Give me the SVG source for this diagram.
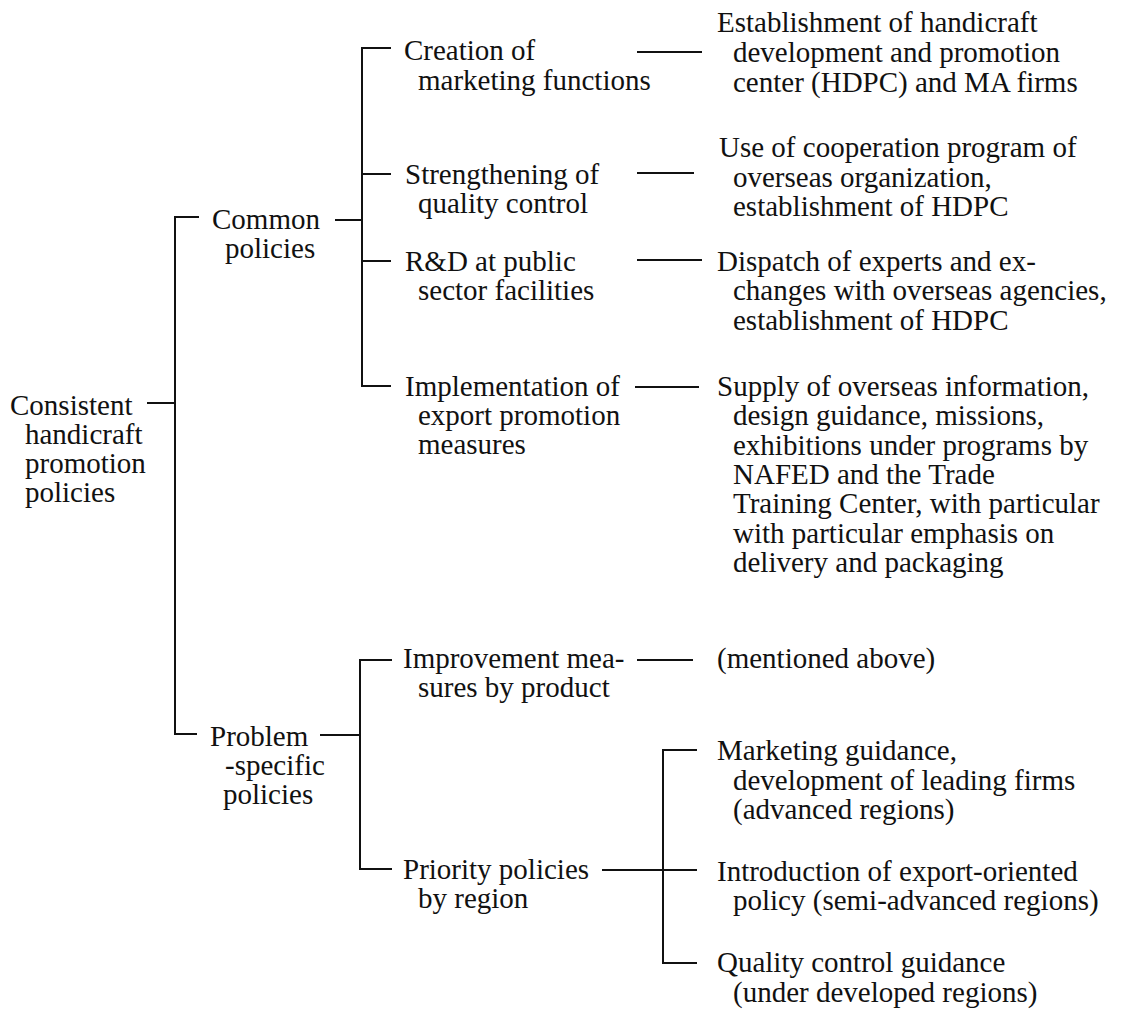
<svg xmlns="http://www.w3.org/2000/svg" width="1135" height="1014" viewBox="0 0 1135 1014">
  <style>
    text { font-family: 'Liberation Serif', 'Times New Roman', Times, serif; font-size: 29px; fill: #111; }
    .c { stroke: #111; stroke-width: 2; fill: none; stroke-linecap: butt; }
  </style>
  <rect width="1135" height="1014" fill="#fff"/>

  <!-- connectors: brackets, ticks and dashes -->
  <g id="connectors" class="c">
    <!-- root bracket -->
    <path d="M147 403 H175"/>
    <path d="M199 217 H175 V734 H197"/>
    <!-- common policies bracket -->
    <path d="M335 220 H362"/>
    <path d="M391 48 H362 V386 H391"/>
    <path d="M362 174 H391"/>
    <path d="M362 261 H391"/>
    <!-- common policies to measures -->
    <path d="M637 52 H702"/>
    <path d="M637 173 H694"/>
    <path d="M637 260 H702"/>
    <path d="M635 387 H699"/>
    <!-- problem-specific bracket -->
    <path d="M320 735 H360"/>
    <path d="M392 660 H360 V869 H392"/>
    <path d="M637 660 H693"/>
    <!-- regional priorities bracket -->
    <path d="M602 870 H697"/>
    <path d="M697 750 H663 V963 H697"/>
  </g>

  <g id="root">
    <text><tspan x="10" y="415">Consistent</tspan><tspan x="25" y="444">handicraft</tspan><tspan x="25" y="473">promotion</tspan><tspan x="25" y="502">policies</tspan></text>
  </g>

  <g id="common">
    <text><tspan x="212" y="229">Common</tspan><tspan x="225" y="258">policies</tspan></text>
  </g>

  <g id="problem">
    <text><tspan x="210" y="746">Problem</tspan><tspan x="225" y="775">-specific</tspan><tspan x="223" y="804">policies</tspan></text>
  </g>

  <g id="marketing-functions">
    <text><tspan x="404" y="60">Creation of</tspan><tspan x="418" y="90">marketing functions</tspan></text>
  </g>
  <g id="quality-control">
    <text><tspan x="405" y="184">Strengthening of</tspan><tspan x="418" y="213">quality control</tspan></text>
  </g>
  <g id="rnd">
    <text><tspan x="405" y="271">R&amp;D at public</tspan><tspan x="418" y="300">sector facilities</tspan></text>
  </g>
  <g id="export-promotion">
    <text><tspan x="405" y="396">Implementation of</tspan><tspan x="418" y="425">export promotion</tspan><tspan x="418" y="454">measures</tspan></text>
  </g>

  <g id="hdpc-ma">
    <text><tspan x="717" y="32">Establishment of handicraft</tspan><tspan x="733" y="62">development and promotion</tspan><tspan x="733" y="92">center (HDPC) and MA firms</tspan></text>
  </g>
  <g id="cooperation">
    <text><tspan x="719" y="157">Use of cooperation program of</tspan><tspan x="733" y="187">overseas organization,</tspan><tspan x="733" y="216">establishment of HDPC</tspan></text>
  </g>
  <g id="experts">
    <text><tspan x="717" y="271">Dispatch of experts and ex-</tspan><tspan x="733" y="300">changes with overseas agencies,</tspan><tspan x="733" y="330">establishment of HDPC</tspan></text>
  </g>
  <g id="overseas-info">
    <text><tspan x="717" y="396">Supply of overseas information,</tspan><tspan x="733" y="425">design guidance, missions,</tspan><tspan x="733" y="455">exhibitions under programs by</tspan><tspan x="733" y="484">NAFED and the Trade</tspan><tspan x="733" y="513">Training Center, with particular</tspan><tspan x="733" y="543">with particular emphasis on</tspan><tspan x="733" y="572">delivery and packaging</tspan></text>
  </g>

  <g id="by-product">
    <text><tspan x="403" y="668">Improvement mea-</tspan><tspan x="418" y="697">sures by product</tspan></text>
  </g>
  <g id="mentioned-above">
    <text><tspan x="717" y="668">(mentioned above)</tspan></text>
  </g>
  <g id="by-region">
    <text><tspan x="403" y="879">Priority policies</tspan><tspan x="418" y="908">by region</tspan></text>
  </g>

  <g id="advanced">
    <text><tspan x="717" y="760">Marketing guidance,</tspan><tspan x="733" y="790">development of leading firms</tspan><tspan x="733" y="819">(advanced regions)</tspan></text>
  </g>
  <g id="semi-advanced">
    <text><tspan x="717" y="881">Introduction of export-oriented</tspan><tspan x="733" y="910">policy (semi-advanced regions)</tspan></text>
  </g>
  <g id="under-developed">
    <text><tspan x="717" y="972">Quality control guidance</tspan><tspan x="733" y="1002">(under developed regions)</tspan></text>
  </g>
</svg>
